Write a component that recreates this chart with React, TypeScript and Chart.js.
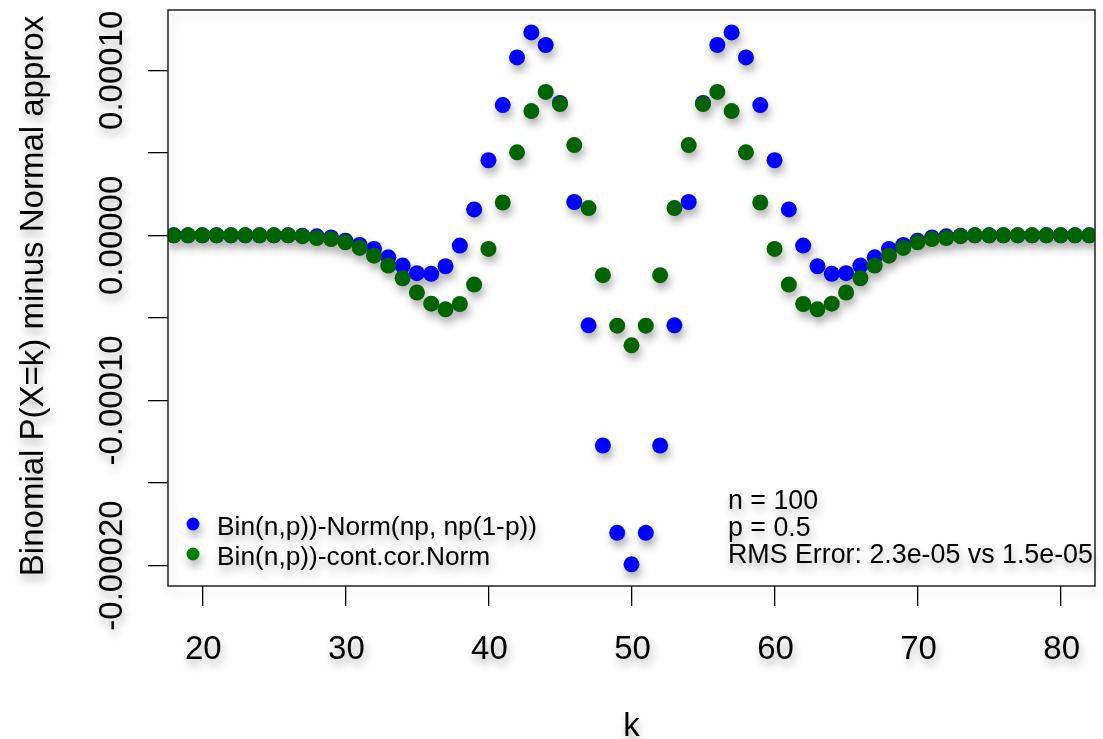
import React, { useEffect, useRef } from "react";
import { Chart, registerables } from "chart.js";

Chart.register(...registerables);

// ---- data ----
const kValues = [
  18, 19, 20, 21, 22, 23, 24, 25, 26, 27,
  28, 29, 30, 31, 32, 33, 34, 35, 36, 37,
  38, 39, 40, 41, 42, 43, 44, 45, 46, 47,
  48, 49, 50, 51, 52,
  53, 54, 55, 56, 57, 58, 59, 60, 61, 62,
  63, 64, 65, 66, 67, 68, 69, 70, 71, 72,
  73, 74, 75, 76, 77, 78, 79, 80, 81, 82,
];

// Bin(n,p) - Norm(np, np(1-p))
const binMinusNorm = [
  0, 0, 0, 0, 0, 0, 0, 0, 0, -0.3e-6,
  -0.6e-6, -1.3e-6, -3.2e-6, -5.8e-6, -8.2e-6, -1.33e-5, -1.83e-5, -2.29e-5, -2.33e-5, -1.87e-5,
  -6.2e-6, 1.57e-5, 4.55e-5, 7.89e-5, 1.078e-4, 1.229e-4, 1.153e-4, 8.02e-5, 2.02e-5, -5.45e-5,
  -1.273e-4, -1.802e-4, -1.993e-4, -1.802e-4, -1.273e-4,
  -5.45e-5, 2.02e-5, 8.02e-5, 1.153e-4, 1.229e-4, 1.078e-4, 7.89e-5, 4.55e-5, 1.57e-5, -6.2e-6,
  -1.87e-5, -2.33e-5, -2.29e-5, -1.83e-5, -1.33e-5, -8.2e-6, -5.8e-6, -3.2e-6, -1.3e-6, -0.6e-6,
  -0.3e-6, 0, 0, 0, 0, 0, 0, 0, 0, 0,
];

// Bin(n,p) - continuity-corrected Normal
const binMinusContCor = [
  0, 0, 0, 0, 0, 0, 0, 0, 0, -0.5e-6,
  -1.6e-6, -2.2e-6, -4.2e-6, -7.6e-6, -1.23e-5, -1.83e-5, -2.6e-5, -3.46e-5, -4.14e-5, -4.48e-5,
  -4.16e-5, -2.98e-5, -8.2e-6, 1.99e-5, 5.03e-5, 7.53e-5, 8.69e-5, 7.95e-5, 5.47e-5, 1.65e-5,
  -2.41e-5, -5.47e-5, -6.66e-5, -5.47e-5, -2.41e-5,
  1.65e-5, 5.47e-5, 7.95e-5, 8.69e-5, 7.53e-5, 5.03e-5, 1.99e-5, -8.2e-6, -2.98e-5, -4.16e-5,
  -4.48e-5, -4.14e-5, -3.46e-5, -2.6e-5, -1.83e-5, -1.23e-5, -7.6e-6, -4.2e-6, -2.2e-6, -1.6e-6,
  -0.5e-6, 0, 0, 0, 0, 0, 0, 0, 0, 0,
];

const xTickValues = [20, 30, 40, 50, 60, 70, 80];
const xTickLabels = ["20", "30", "40", "50", "60", "70", "80"];
const yTickValues = [-0.0002, -0.00015, -0.0001, -0.00005, 0, 0.00005, 0.0001];
const yTickLabels = ["-0.00020", "", "-0.00010", "", "0.00000", "", "0.00010"];
const seriesLabels = ["Bin(n,p))-Norm(np, np(1-p))", "Bin(n,p))-cont.cor.Norm"];
const seriesColors = ["#0000FF", "#006400"];
const legendColors = ["#0000FF", "#008000"];
const infoLines = ["n = 100", "p = 0.5", "RMS Error: 2.3e-05 vs 1.5e-05"];
const xTitle = "k";
const yTitle = "Binomial P(X=k) minus Normal approx";

const X_MIN = 17.6;
const X_MAX = 82.4;
const Y_MIN = -0.0002124;
const Y_MAX = 0.0001365;

const FONT = '"Liberation Sans", Arial, Helvetica, sans-serif';
const POINT_R = 8;

function setShadow(ctx: CanvasRenderingContext2D, extraX = 0) {
  ctx.shadowColor = "rgba(0,0,0,0.32)";
  ctx.shadowBlur = 8;
  ctx.shadowOffsetX = 2 + extraX;
  ctx.shadowOffsetY = 6;
}

const decorPlugin = {
  id: "rdecor",
  beforeDatasetsDraw(chart: any) {
    const { ctx, chartArea } = chart;
    const OFF = 5000;
    ctx.save();
    ctx.beginPath();
    ctx.rect(chartArea.left, chartArea.top, chartArea.right - chartArea.left, chartArea.bottom - chartArea.top);
    ctx.clip();
    setShadow(ctx, OFF);
    ctx.fillStyle = "#000";
    ctx.beginPath();
    chart.data.datasets.forEach((_ds: any, i: number) => {
      const meta = chart.getDatasetMeta(i);
      meta.data.forEach((el: any) => {
        ctx.moveTo(el.x - OFF + POINT_R, el.y);
        ctx.arc(el.x - OFF, el.y, POINT_R, 0, Math.PI * 2);
      });
    });
    ctx.fill();
    ctx.restore();
  },
  afterDatasetsDraw(chart: any) {
    const { ctx, chartArea, scales } = chart;
    const xs = scales.x;
    const ys = scales.y;

    // plot box
    ctx.save();
    ctx.shadowColor = "rgba(0,0,0,0.18)";
    ctx.shadowBlur = 10;
    ctx.shadowOffsetX = 2;
    ctx.shadowOffsetY = 6;
    ctx.strokeStyle = "#222";
    ctx.lineWidth = 1.5;
    ctx.strokeRect(chartArea.left, chartArea.top, chartArea.right - chartArea.left, chartArea.bottom - chartArea.top);
    ctx.restore();

    ctx.save();
    setShadow(ctx);
    ctx.fillStyle = "#000";

    // x tick labels
    ctx.font = `33px ${FONT}`;
    ctx.textAlign = "center";
    ctx.textBaseline = "alphabetic";
    xTickValues.forEach((v, i) => {
      ctx.fillText(xTickLabels[i], xs.getPixelForValue(v) + 1, 659);
    });

    // y tick labels (rotated)
    yTickValues.forEach((v, i) => {
      const lab = yTickLabels[i];
      if (!lab) return;
      ctx.save();
      ctx.translate(122, ys.getPixelForValue(v));
      ctx.rotate(-Math.PI / 2);
      ctx.fillText(lab, 0, 0);
      ctx.restore();
    });

    // axis titles
    ctx.fillText(xTitle, (chartArea.left + chartArea.right) / 2, 736);
    ctx.save();
    ctx.translate(43, (chartArea.top + chartArea.bottom) / 2 - 2);
    ctx.rotate(-Math.PI / 2);
    ctx.fillText(yTitle, 0, 0);
    ctx.restore();

    // legend
    ctx.font = `26.3px ${FONT}`;
    ctx.textAlign = "left";
    const legBase = [535, 565];
    chart.data.datasets.forEach((ds: any, i: number) => {
      ctx.fillStyle = legendColors[i];
      ctx.beginPath();
      ctx.arc(193, legBase[i] - 11, 6.5, 0, Math.PI * 2);
      ctx.fill();
      ctx.fillStyle = "#000";
      ctx.fillText(ds.label, 217, legBase[i]);
    });

    // info text
    ctx.font = `26.8px ${FONT}`;
    const infoBase = [509, 536, 563];
    infoLines.forEach((t, i) => ctx.fillText(t, 728, infoBase[i]));

    ctx.restore();
  },
};

export default function App() {
  const canvasRef = useRef<HTMLCanvasElement | null>(null);

  useEffect(() => {
    if (!canvasRef.current) return;
    const mk = (vals: number[]) => kValues.map((k, i) => ({ x: k, y: vals[i] }));
    const chart = new Chart(canvasRef.current, {
      type: "scatter",
      data: {
        datasets: [
          {
            label: seriesLabels[0],
            data: mk(binMinusNorm),
            backgroundColor: seriesColors[0],
            borderWidth: 0,
            pointRadius: POINT_R,
            pointHoverRadius: POINT_R,
            order: 1,
          },
          {
            label: seriesLabels[1],
            data: mk(binMinusContCor),
            backgroundColor: seriesColors[1],
            borderWidth: 0,
            pointRadius: POINT_R,
            pointHoverRadius: POINT_R,
            order: 0,
          },
        ],
      },
      options: {
        animation: false,
        responsive: false,
        devicePixelRatio: 1,
        events: [],
        layout: { padding: { top: 10, right: 3, left: 0, bottom: 0 } },
        plugins: { legend: { display: false }, tooltip: { enabled: false } },
        scales: {
          x: {
            type: "linear",
            min: X_MIN,
            max: X_MAX,
            afterBuildTicks: (s: any) => {
              s.ticks = xTickValues.map((v) => ({ value: v }));
            },
            afterFit: (s: any) => {
              s.height = 153;
            },
            ticks: { display: false },
            border: { display: false },
            grid: { drawOnChartArea: false, drawTicks: true, tickLength: 20, color: "#000", lineWidth: 1.3 },
          },
          y: {
            type: "linear",
            min: Y_MIN,
            max: Y_MAX,
            afterBuildTicks: (s: any) => {
              s.ticks = yTickValues.map((v) => ({ value: v }));
            },
            afterFit: (s: any) => {
              s.width = 168;
            },
            ticks: { display: false },
            border: { display: false },
            grid: { drawOnChartArea: false, drawTicks: true, tickLength: 20, color: "#000", lineWidth: 1.3 },
          },
        },
      },
      plugins: [decorPlugin],
    });
    return () => chart.destroy();
  }, []);

  return (
    <canvas
      ref={canvasRef}
      width={1103}
      height={739}
      style={{ position: "absolute", left: 0, top: 0, width: 1103, height: 739, background: "#fff" }}
    />
  );
}
